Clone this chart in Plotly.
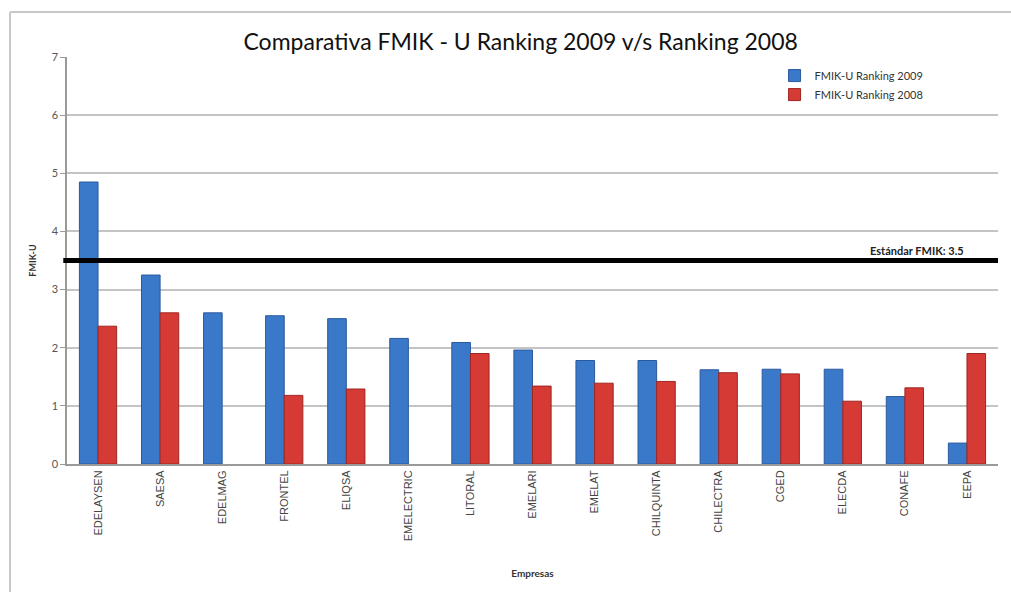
import plotly.graph_objects as go

empresas = ["EDELAYSEN", "SAESA", "EDELMAG", "FRONTEL", "ELIQSA", "EMELECTRIC",
            "LITORAL", "EMELARI", "EMELAT", "CHILQUINTA", "CHILECTRA", "CGED",
            "ELECDA", "CONAFE", "EEPA"]
ranking_2009 = [4.85, 3.25, 2.60, 2.55, 2.50, 2.16, 2.09, 1.96, 1.78, 1.78,
                1.62, 1.63, 1.63, 1.16, 0.36]
ranking_2008 = [2.37, 2.60, None, 1.18, 1.29, None, 1.90, 1.34, 1.39, 1.42,
                1.57, 1.55, 1.08, 1.31, 1.90]
estandar = 3.5
y_ticks = [0, 1, 2, 3, 4, 5, 6, 7]

fig = go.Figure()
fig.add_trace(go.Bar(
    x=empresas, y=ranking_2009, name="FMIK-U Ranking 2009",
    marker=dict(color="#3a78c9", line=dict(color="#2a5a9e", width=1)),
))
fig.add_trace(go.Bar(
    x=empresas, y=ranking_2008, name="FMIK-U Ranking 2008",
    marker=dict(color="#d63a35", line=dict(color="#9e2622", width=1)),
))

fig.add_shape(type="line", xref="paper", yref="y", x0=-0.004, x1=1.0,
              y0=estandar, y1=estandar, line=dict(color="black", width=5))
fig.add_annotation(xref="paper", yref="y", x=0.966, y=estandar,
                   text="<b>Estándar FMIK: 3.5</b>", showarrow=False,
                   xanchor="right", yanchor="bottom", yshift=2,
                   font=dict(family="Lato", size=11, color="#222"))

# outer frame (top and left edges visible)
fig.add_shape(type="line", xref="paper", yref="paper", x0=-0.0612, x1=1.02,
              y0=1.1106, y1=1.1106, line=dict(color="#c8c8c8", width=2))
fig.add_shape(type="line", xref="paper", yref="paper", x0=-0.0612, x1=-0.0612,
              y0=1.1106, y1=-0.33, line=dict(color="#c8c8c8", width=2))

fig.update_layout(
    width=1011, height=592,
    margin=dict(l=67, r=13, t=57, b=128),
    paper_bgcolor="white", plot_bgcolor="white",
    title=dict(text="Comparativa FMIK - U Ranking 2009 v/s Ranking 2008",
               x=0.515, xanchor="center", y=0.929, yanchor="middle",
               font=dict(family="Lato", size=23, color="#111")),
    barmode="group", bargap=0.4, bargroupgap=0.0,
    legend=dict(x=0.76, y=0.99, xanchor="left", yanchor="top",
                bgcolor="rgba(0,0,0,0)", font=dict(family="Lato", size=11, color="#333"),
                itemwidth=30),
    font=dict(family="Lato", color="#444"),
)
fig.update_xaxes(
    tickangle=-90, tickfont=dict(family="Liberation Sans", size=11, color="#444"),
    showline=True, linecolor="#9a9a9a", linewidth=2, showgrid=False,
    title=dict(text="<b>Empresas</b>", font=dict(family="Lato", size=10, color="#333"),
               standoff=30),
)
fig.update_yaxes(
    range=[0, 7], tickvals=y_ticks, ticks="outside", ticklen=5, tickcolor="#9a9a9a",
    showline=True, linecolor="#9a9a9a", linewidth=1.5,
    showgrid=True, gridcolor="#c4c4c4", gridwidth=1.5,
    tickfont=dict(family="Lato", size=11, color="#555"),
    title=dict(text="<b>FMIK-U</b>", font=dict(family="Lato", size=9, color="#333"),
               standoff=14),
    zeroline=False,
)

fig.write_html("out.html")
